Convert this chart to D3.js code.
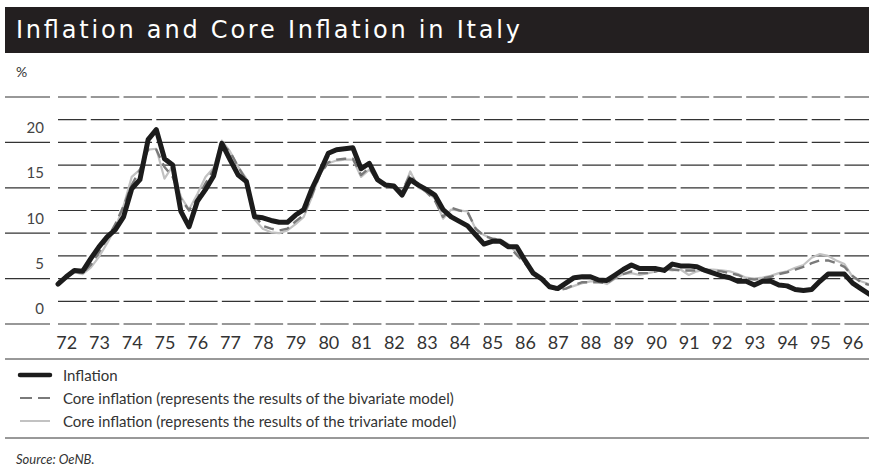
<!DOCTYPE html>
<html>
<head>
<meta charset="utf-8">
<script src="https://cdnjs.cloudflare.com/ajax/libs/d3/7.8.5/d3.min.js"></script>
<style>
  body { margin: 0; background: #fff; }
  svg { display: block; }
  .lbl { font-family: Lato, "Open Sans", sans-serif; fill: #333; }
</style>
</head>
<body>
<div id="chart"></div>
<script>
// quarterly values, 1972Q1 .. 1996Q4, in %
var years = d3.range(1972, 1997);
var yLabels = [0, 5, 10, 15, 20];
var gridValues = d3.range(0, 25.01, 2.5);

var inflation = [
  4.4, 5.2, 5.9, 5.8, 7.2, 8.5, 9.6, 10.4, 11.8, 14.9,
  15.9, 20.3, 21.4, 18.2, 17.5, 12.4, 10.7, 13.5, 14.8, 16.3,
  19.9, 18.1, 16.4, 15.7, 11.8, 11.7, 11.4, 11.2, 11.2, 12.0,
  12.6, 14.9, 16.8, 18.8, 19.2, 19.3, 19.4, 17.1, 17.7, 15.9,
  15.3, 15.2, 14.2, 15.9, 15.3, 14.8, 14.2, 12.6, 11.8, 11.3,
  10.8, 9.8, 8.8, 9.1, 9.1, 8.5, 8.5, 7.0, 5.6, 5.0,
  4.1, 3.9, 4.5, 5.1, 5.2, 5.2, 4.85, 4.8, 5.4, 6.0,
  6.5, 6.1, 6.1, 6.1, 5.9, 6.6, 6.4, 6.4, 6.3, 5.9,
  5.6, 5.3, 5.1, 4.7, 4.7, 4.3, 4.7, 4.7, 4.3, 4.2,
  3.8, 3.7, 3.8, 4.7, 5.5, 5.5, 5.5, 4.5, 3.9, 3.3
];

var coreBivariate = [
  4.6, 5.3, 5.8, 5.6, 6.5, 7.9, 9.4, 11.0, 13.0, 15.3,
  17.0, 19.2, 19.2, 17.3, 16.2, 13.8, 12.5, 13.8, 15.5, 17.0,
  19.8, 19.0, 17.3, 15.8, 12.0, 10.8, 10.5, 10.3, 10.5, 11.3,
  12.0, 14.2, 16.5, 17.8, 18.1, 18.2, 18.2, 16.4, 17.2, 15.7,
  15.4, 15.2, 14.6, 16.5, 15.2, 14.5, 13.6, 11.8, 12.8, 12.5,
  12.3, 10.5, 9.7, 9.4, 9.3, 8.6, 7.6, 6.7, 5.5, 4.9,
  4.2, 3.7, 3.9, 4.3, 4.6, 4.6, 4.6, 4.5, 5.1, 5.5,
  5.8, 5.6, 5.6, 5.8, 6.1, 6.0, 5.9, 5.9, 5.9, 5.9,
  5.9, 5.8, 5.6, 5.4, 5.0, 4.9, 5.0, 5.2, 5.5, 5.7,
  6.0, 6.3, 6.7, 7.0, 7.0, 6.7, 6.3, 5.3, 4.6, 4.3
];

var coreTrivariate = [
  4.4, 5.1, 5.7, 5.5, 6.2, 7.4, 8.9, 10.6, 13.0, 16.2,
  17.0, 19.2, 19.3, 16.0, 17.4, 14.0, 12.6, 14.3, 16.2, 17.2,
  20.2, 19.0, 17.3, 16.0, 11.5, 10.5, 10.1, 10.0, 10.3, 11.0,
  11.8, 14.0, 16.6, 17.7, 18.0, 18.1, 18.1, 16.2, 17.0, 15.8,
  15.2, 15.1, 14.4, 16.8, 15.0, 14.6, 13.8, 11.6, 12.6, 12.5,
  12.4, 10.4, 9.8, 9.4, 9.3, 8.8, 7.8, 6.8, 5.6, 5.0,
  4.3, 4.0, 3.9, 4.2, 4.5, 4.7, 4.7, 4.4, 5.0, 5.5,
  5.6, 5.4, 5.6, 5.8, 6.0, 5.9, 6.0, 5.4, 5.8, 6.0,
  6.0, 5.9, 5.8, 5.5, 5.1, 5.0, 5.1, 5.3, 5.6, 5.8,
  6.2, 6.5, 7.3, 7.7, 7.5, 7.0, 6.6, 5.2, 4.7, 4.4
];

var legendLabels = [
  "Inflation",
  "Core inflation (represents the results of the bivariate model)",
  "Core inflation (represents the results of the trivariate model)"
];

var width = 869, height = 470;

var svg = d3.select("#chart").append("svg")
    .attr("width", width)
    .attr("height", height);

var xScale = d3.scaleLinear().domain([1972, 1996.75]).range([58, 869]),
    yScale = d3.scaleLinear().domain([0, 25]).range([324, 97]);

// title bar
svg.append("rect")
    .attr("x", 5).attr("y", 7)
    .attr("width", 864).attr("height", 46)
    .attr("fill", "#231f20");

svg.append("text")
    .attr("x", 16).attr("y", 38)
    .attr("fill", "#fff")
    .attr("font-family", "'DejaVu Sans', sans-serif")
    .attr("font-size", 24)
    .attr("textLength", 504)
    .attr("lengthAdjust", "spacing")
    .text("Inflation and Core Inflation in Italy");

svg.append("text")
    .attr("class", "lbl")
    .attr("x", 16).attr("y", 77)
    .attr("font-size", 14)
    .attr("fill", "#444")
    .text("%");

// grid
var grid = svg.append("g").attr("class", "grid");

grid.selectAll("line.dash")
    .data(gridValues)
    .enter().append("line")
    .attr("class", "dash")
    .attr("x1", 58).attr("x2", 869)
    .attr("y1", d => yScale(d)).attr("y2", d => yScale(d))
    .attr("stroke", "#333")
    .attr("stroke-width", 1.2)
    .attr("stroke-dasharray", "28.5,4.27");

grid.selectAll("line.tick")
    .data(gridValues.filter(d => d % 5 === 0))
    .enter().append("line")
    .attr("class", "tick")
    .attr("x1", 5).attr("x2", 50)
    .attr("y1", d => yScale(d)).attr("y2", d => yScale(d))
    .attr("stroke", "#333")
    .attr("stroke-width", 1.2);

// y labels sit above their lines
var yAxis = d3.axisLeft(yScale).tickValues(yLabels).tickSize(0).tickPadding(0);
svg.append("g")
    .attr("class", "axis axis--y")
    .attr("transform", "translate(44,-15)")
    .call(yAxis)
    .call(g => g.select(".domain").remove())
    .selectAll("text")
    .attr("font-family", "Lato, 'Open Sans', sans-serif")
    .attr("font-size", 15)
    .attr("fill", "#444");

// x labels
var xAxis = d3.axisBottom(xScale)
    .tickValues(years.map(y => y + 0.25))
    .tickFormat(d => String(Math.floor(d)).slice(2))
    .tickSize(0).tickPadding(0);

svg.append("g")
    .attr("class", "axis axis--x")
    .attr("transform", "translate(0,336)")
    .call(xAxis)
    .call(g => g.select(".domain").remove())
    .selectAll("text")
    .attr("font-family", "Lato, 'Open Sans', sans-serif")
    .attr("font-size", 18)
    .attr("fill", "#333");

// series
var line = d3.line()
    .x((d, i) => xScale(1972 + i / 4))
    .y(d => yScale(d));

var series = [
  {data: coreTrivariate, color: "#c2c2c2", width: 2.2, dash: null},
  {data: coreBivariate, color: "#7a7a7a", width: 2.4, dash: "10,6"},
  {data: inflation, color: "#1c1c1c", width: 5, dash: null}
];

svg.selectAll("path.series")
    .data(series)
    .enter().append("path")
    .attr("class", "series")
    .attr("d", d => line(d.data))
    .attr("fill", "none")
    .attr("stroke", d => d.color)
    .attr("stroke-width", d => d.width)
    .attr("stroke-dasharray", d => d.dash)
    .attr("stroke-linejoin", "round")
    .attr("stroke-linecap", d => d.dash ? "butt" : "round");

// rules
svg.append("line")
    .attr("x1", 5).attr("x2", 869).attr("y1", 359).attr("y2", 359)
    .attr("stroke", "#333").attr("stroke-width", 1);

svg.append("line")
    .attr("x1", 5).attr("x2", 869).attr("y1", 438).attr("y2", 438)
    .attr("stroke", "#333").attr("stroke-width", 1);

// legend
var legendRows = [381, 404, 427];
var legend = svg.selectAll("g.legend")
    .data(series.slice().reverse())
    .enter().append("g")
    .attr("class", "legend")
    .attr("transform", (d, i) => "translate(0," + legendRows[i] + ")");

legend.append("line")
    .attr("x1", 20)
    .attr("x2", 50)
    .attr("y1", -6).attr("y2", -6)
    .attr("stroke", d => d.color)
    .attr("stroke-width", d => d.width === 5 ? 4.5 : 2)
    .attr("stroke-dasharray", d => d.dash ? "12,6" : null)
    .attr("stroke-linecap", d => d.width === 5 ? "round" : "butt");

legend.append("text")
    .attr("class", "lbl")
    .attr("x", 63).attr("y", 0)
    .attr("font-size", 15)
    .attr("fill", "#3a3a3a")
    .text((d, i) => legendLabels[i]);

svg.append("text")
    .attr("class", "lbl")
    .attr("x", 16).attr("y", 464)
    .attr("font-size", 13)
    .attr("font-style", "italic")
    .text("Source: OeNB.");
</script>
</body>
</html>
